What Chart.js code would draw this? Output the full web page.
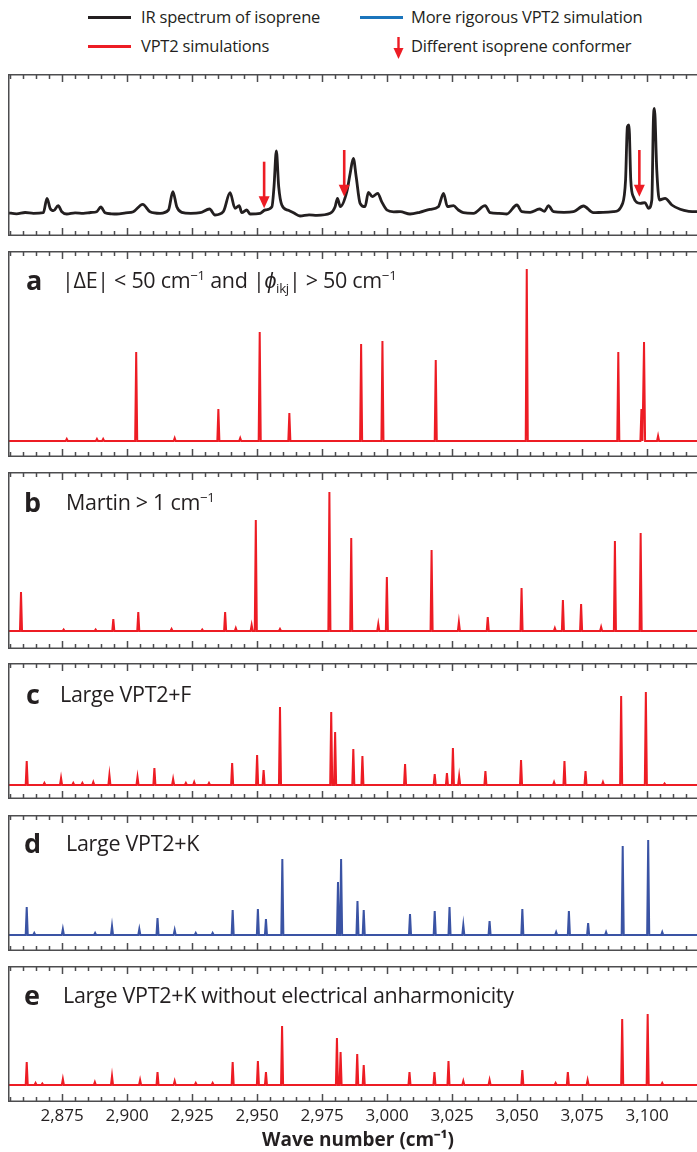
<!DOCTYPE html>
<html>
<head>
<meta charset="utf-8">
<script src="https://cdn.jsdelivr.net/npm/chart.js@4.4.1/dist/chart.umd.min.js"></script>
<style>
  html, body { margin: 0; padding: 0; background: #fff; }
  body { width: 697px; height: 1152px; position: relative; overflow: hidden;
         font-family: "Open Sans", sans-serif; color: #231f20; }
  .panel { position: absolute; left: 8px; }
  .key { position: absolute; font-size: 16.5px; line-height: 20px; white-space: nowrap; letter-spacing: -0.2px; }
  .swatch { position: absolute; width: 43px; height: 3px; }
  .tag { position: absolute; font-weight: 700; font-size: 27px; line-height: 30px; }
  .caption { position: absolute; font-size: 21.5px; line-height: 30px; white-space: nowrap; letter-spacing: -0.3px; }
  .caption sup, .caption sub { font-size: 62%; line-height: 0; }
</style>
</head>
<body>

<!-- legend -->
<div class="swatch" style="left:88px;top:16px;background:#231f20"></div>
<div class="key" style="left:141px;top:7px">IR spectrum of isoprene</div>
<div class="swatch" style="left:360px;top:16px;background:#1b75bc"></div>
<div class="key" style="left:411px;top:7px">More rigorous VPT2 simulation</div>
<div class="swatch" style="left:88px;top:45px;background:#ed1c24"></div>
<div class="key" style="left:141px;top:36px">VPT2 simulations</div>
<svg style="position:absolute;left:392px;top:36px" width="13" height="24">
  <line x1="6.5" y1="1" x2="6.5" y2="14" stroke="#ed1c24" stroke-width="2.4"/>
  <polygon points="1.5,12 11.5,12 6.5,23" fill="#ed1c24"/>
</svg>
<div class="key" style="left:411px;top:36px">Different isoprene conformer</div>

<canvas id="irChart" class="panel" style="top:74px" width="700" height="162"></canvas>
<canvas id="chartA" class="panel" style="top:251px" width="700" height="206"></canvas>
<canvas id="chartB" class="panel" style="top:472px" width="700" height="177"></canvas>
<canvas id="chartC" class="panel" style="top:663px" width="700" height="136"></canvas>
<canvas id="chartD" class="panel" style="top:815px" width="700" height="136"></canvas>
<canvas id="chartE" class="panel" style="top:966px" width="700" height="186"></canvas>

<div class="tag" style="left:26px;top:265px">a</div>
<div class="caption" style="left:62px;top:265px">|ΔE| &lt; 50 cm<sup>−1</sup> and |<i>ϕ</i><sub>ikj</sub>| &gt; 50 cm<sup>−1</sup></div>
<div class="tag" style="left:24px;top:487px">b</div>
<div class="caption" style="left:66px;top:487px">Martin &gt; 1 cm<sup>−1</sup></div>
<div class="tag" style="left:26px;top:679px">c</div>
<div class="caption" style="left:60px;top:679px">Large VPT2+F</div>
<div class="tag" style="left:24px;top:828px">d</div>
<div class="caption" style="left:66px;top:828px">Large VPT2+K</div>
<div class="tag" style="left:24px;top:980px">e</div>
<div class="caption" style="left:63px;top:980px">Large VPT2+K without electrical anharmonicity</div>

<script>
// x axis
const waveMin = 2854.2;
const waveMax = 3123.4;
const tickValues = [2875, 2900, 2925, 2950, 2975, 3000, 3025, 3050, 3075, 3100];

// measured IR spectrum (arbitrary units)
const irWave = [
  2854.2, 2857.5, 2860.8, 2864.0, 2867.8, 2869.2, 2870.4, 2871.7, 2873.5, 2874.9,
  2876.8, 2880.0, 2883.2, 2886.0, 2888.3, 2889.9, 2891.5, 2894.0, 2896.0, 2899.5,
  2902.4, 2906.0, 2908.8, 2912.7, 2915.9, 2917.6, 2919.1, 2921.0, 2924.5, 2928.1,
  2931.7, 2933.8, 2937.0, 2939.6, 2941.5, 2943.1, 2944.1, 2946.0, 2947.3, 2951.2,
  2953.1, 2955.7, 2956.5, 2957.4, 2958.3, 2959.5, 2962.0, 2964.0, 2966.5, 2970.0,
  2973.0, 2978.1, 2980.0, 2980.9, 2982.0, 2984.5, 2985.8, 2987.0, 2988.1, 2989.6,
  2991.5, 2992.8, 2994.3, 2996.4, 2997.9, 2999.9, 3002.5, 3005.0, 3008.8, 3012.5,
  3016.5, 3019.7, 3021.7, 3023.2, 3025.5, 3027.4, 3029.3, 3033.2, 3037.7, 3039.6,
  3043.0, 3046.0, 3049.9, 3051.8, 3055.0, 3058.6, 3060.5, 3062.0, 3064.0, 3068.0,
  3071.7, 3075.5, 3079.3, 3083.0, 3087.0, 3090.6, 3091.7, 3092.4, 3093.0, 3093.7,
  3094.7, 3097.3, 3099.2, 3100.5, 3101.8, 3102.4, 3102.8, 3103.7, 3104.7, 3106.9,
  3109.5, 3112.7, 3116.0, 3119.1, 3123.4
];
const irSignal = [
  0.5, -0.5, 0.8, 0, 0.6, 15, 5, 2.6, 7.6, 1.6,
  -0.7, 0.5, 0, 0.8, 1.6, 6.3, 0.6, -0.5, -0.7, 0.5,
  1.6, 9, 1.6, 0, 3.3, 21.6, 6.6, 1, 0, 0.6,
  4.3, -1.7, 1.6, 20.6, 5, 7.6, 0.6, 3.3, -0.7, 0,
  3.3, 6.6, 26.6, 62.3, 26.6, 8.3, 3, 0.6, -2.7, -1.5,
  -2, 0, 6.6, 15, 6.6, 21.6, 40, 55, 36.6, 10,
  6.6, 21, 16.6, 20, 11.6, 3.3, 1.5, 1.6, -0.7, 1,
  4, 6.6, 20, 6.6, 7.6, 3.3, 0.6, 0, 7.6, 0.6,
  0, -0.7, 8.3, 1.6, 1, 4.3, 2, 7.6, 1.6, 1,
  1.6, 7.3, 0.6, 1, 1.6, 10, 33.3, 86.6, 88.3, 33.3,
  16.6, 10, 10.6, 5, 13.3, 93.3, 105, 43.3, 13.3, 15,
  8.3, 4, 2, 1.6, 1.6
];

// red arrows: other conformer
const conformerWave = [2952.7, 2983.5, 3097.0];
const conformerTop = [51.6, 63.3, 63.3];
const conformerTip = [5, 16.6, 16.6];

// simulated band positions (cm-1) and intensities (arbitrary units)
const peaksA = [2876.8, 2888.4, 2890.8, 2903.5, 2918.3, 2935.1, 2943.5, 2951.0, 2962.4, 2990.0,
                2998.2, 3018.7, 3053.7, 3088.9, 3097.8, 3098.8, 3104.2];
const heightsA = [2, 2, 2, 89, 3, 32, 3, 109, 28, 97,
                  100, 81, 172, 89, 32, 99, 5];

const peaksB = [2859.2, 2875.6, 2887.9, 2894.7, 2904.3, 2917.1, 2928.9, 2937.7, 2941.8, 2947.9,
                2949.5, 2958.8, 2977.8, 2986.2, 2996.6, 2999.9, 3017.1, 3027.6, 3038.7, 3051.7,
                3064.5, 3067.6, 3074.6, 3082.3, 3087.6, 3097.5];
const heightsB = [39, 1.5, 1.5, 12, 19, 2, 1.5, 19, 3, 6,
                  111, 2, 139, 93, 7, 54, 81, 9, 14, 43,
                  3, 31, 27, 4, 90, 98];

const peaksC = [2861.4, 2868.2, 2874.6, 2879.3, 2882.8, 2887.0, 2893.2, 2904.0, 2910.5, 2917.7,
                2922.6, 2925.8, 2931.5, 2940.4, 2950.0, 2952.5, 2958.8, 2978.5, 2980.0, 2987.0,
                2990.5, 3006.9, 3018.3, 3023.0, 3025.3, 3027.7, 3037.8, 3051.5, 3064.2, 3068.2,
                3076.3, 3083.0, 3090.0, 3099.5, 3106.7];
const heightsC = [24, 2, 7, 2, 2, 3, 10, 8, 17, 6,
                  2, 3, 2, 22, 30, 15, 78, 73, 53, 36,
                  29, 21, 11, 12, 37, 9, 14, 25, 3, 24,
                  14, 3, 89, 93, 1.5];

const peaksD = [2861.4, 2864.3, 2875.3, 2887.7, 2894.2, 2904.7, 2911.7, 2918.3, 2926.4, 2932.9,
                2940.6, 2950.3, 2953.4, 2959.7, 2981.1, 2982.3, 2988.6, 2991.0, 3008.8, 3018.3,
                3024.0, 3029.3, 3039.4, 3052.0, 3065.0, 3069.9, 3077.3, 3084.2, 3090.6, 3100.4,
                3105.8];
const heightsD = [28, 2, 6, 2, 9, 6, 17, 5, 2, 2,
                  25, 26, 16, 76, 53, 76, 34, 25, 21, 24,
                  28, 10, 14, 26, 3, 24, 12, 3, 89, 95,
                  3];

const peaksE = [2861.4, 2864.8, 2867.4, 2875.3, 2887.6, 2894.2, 2905.0, 2911.7, 2918.3, 2926.4,
                2932.9, 2940.6, 2950.3, 2953.4, 2959.6, 2980.7, 2982.1, 2988.5, 2991.0, 3008.6,
                3018.2, 3023.6, 3029.3, 3039.4, 3052.0, 3064.8, 3069.5, 3077.1, 3090.4, 3100.2,
                3105.8];
const heightsE = [23, 2, 1.5, 6, 3, 9, 5, 13, 4, 2,
                  2, 23, 24, 13, 59, 47, 33, 31, 20, 13,
                  13, 24, 4, 5, 15, 2, 13, 5, 66, 71,
                  2];

const RED = '#ed1c24';
const BLUE = '#3a53a4';
const INK = '#231f20';
const FRAME = '#4d4d4f';

// each band is drawn as a narrow spike on the baseline
function spikes(pos, h) {
  const pts = [{ x: waveMin, y: 0 }];
  pos.forEach((p, i) => {
    pts.push({ x: p - 0.4, y: 0 }, { x: p, y: h[i] }, { x: p + 0.4, y: 0 });
  });
  pts.push({ x: waveMax, y: 0 });
  return pts;
}

// box around each panel with inward ticks every 5 cm-1
const framePlugin = {
  id: 'frame',
  afterDatasetsDraw(chart) {
    const { ctx, chartArea: a, scales: { x } } = chart;
    ctx.save();
    ctx.strokeStyle = FRAME;
    ctx.lineWidth = 1.5;
    ctx.strokeRect(a.left + 0.75, a.top + 0.75, a.right - a.left - 1.5, a.bottom - a.top - 1.5);
    ctx.beginPath();
    for (let v = Math.ceil(waveMin / 5) * 5; v <= waveMax; v += 5) {
      const px = Math.round(x.getPixelForValue(v)) + 0.5;
      const len = tickValues.includes(v) ? 8 : 5;
      ctx.moveTo(px, a.top); ctx.lineTo(px, a.top + len);
      ctx.moveTo(px, a.bottom); ctx.lineTo(px, a.bottom - len);
    }
    ctx.stroke();
    ctx.restore();
  }
};

const arrowPlugin = {
  id: 'conformerArrows',
  afterDatasetsDraw(chart) {
    const { ctx, scales: { x, y } } = chart;
    ctx.save();
    ctx.strokeStyle = RED;
    ctx.fillStyle = RED;
    ctx.lineWidth = 2.6;
    conformerWave.forEach((w, i) => {
      const px = x.getPixelForValue(w);
      const top = y.getPixelForValue(conformerTop[i]);
      const tip = y.getPixelForValue(conformerTip[i]);
      ctx.beginPath();
      ctx.moveTo(px, top);
      ctx.lineTo(px, tip - 9);
      ctx.stroke();
      ctx.beginPath();
      ctx.moveTo(px - 5.5, tip - 12);
      ctx.lineTo(px + 5.5, tip - 12);
      ctx.lineTo(px, tip);
      ctx.closePath();
      ctx.fill();
    });
    ctx.restore();
  }
};

function makeChart(id, points, color, width, yMin, yMax, extra, withAxis, smooth) {
  const xScale = {
    type: 'linear', min: waveMin, max: waveMax, display: false
  };
  if (withAxis) {
    Object.assign(xScale, {
      display: true,
      position: 'bottom',
      grid: { display: false, drawTicks: false },
      border: { display: false },
      afterBuildTicks: (scale) => { scale.ticks = tickValues.map(v => ({ value: v })); },
      ticks: {
        autoSkip: false, maxRotation: 0, padding: 4, color: INK,
        font: { family: 'Open Sans', size: 17 },
        callback: (v) => v.toLocaleString('en-US')
      },
      title: {
        display: true, text: 'Wave number (cm⁻¹)', color: INK,
        font: { family: 'Open Sans', size: 19, weight: 'bold' },
        padding: { top: 0, bottom: 0 }
      },
      afterFit: (scale) => { scale.height = 50; }
    });
  }
  return new Chart(document.getElementById(id), {
    type: 'scatter',
    data: {
      datasets: [{
        data: points, showLine: true, borderColor: color, borderWidth: width,
        pointRadius: 0,
        cubicInterpolationMode: smooth ? 'monotone' : 'default',
        tension: 0
      }]
    },
    options: {
      responsive: false,
      animation: false,
      layout: { padding: 0 },
      plugins: { legend: { display: false }, tooltip: { enabled: false } },
      scales: {
        x: xScale,
        y: { display: false, min: yMin, max: yMax }
      }
    },
    plugins: [framePlugin].concat(extra)
  });
}

const irPoints = irWave.map((w, i) => ({ x: w, y: irSignal[i] }));

makeChart('irChart', irPoints, INK, 2.8, -22.7, 139.3, [arrowPlugin], false, true);
makeChart('chartA', spikes(peaksA, heightsA), RED, 2, -16, 190, [], false, false);
makeChart('chartB', spikes(peaksB, heightsB), RED, 2, -18, 159, [], false, false);
makeChart('chartC', spikes(peaksC, heightsC), RED, 2, -14, 122, [], false, false);
makeChart('chartD', spikes(peaksD, heightsD), BLUE, 2, -16, 120, [], false, false);
makeChart('chartE', spikes(peaksE, heightsE), RED, 2, -17, 119, [], true, false);
</script>
</body>
</html>
